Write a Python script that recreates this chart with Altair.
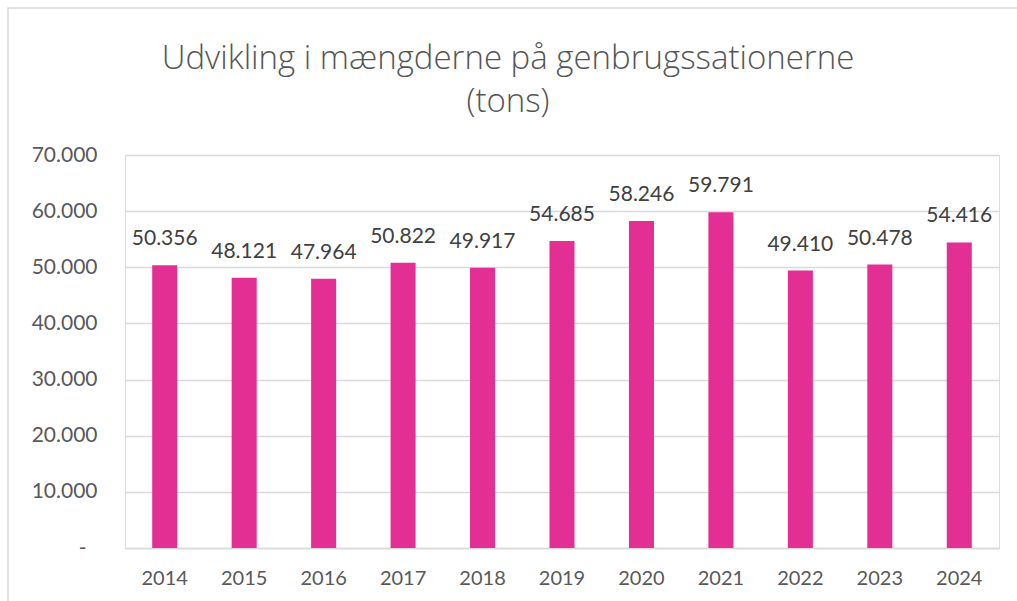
import altair as alt
import pandas as pd

years = ["2014", "2015", "2016", "2017", "2018", "2019", "2020", "2021", "2022", "2023", "2024"]
values = [50356, 48121, 47964, 50822, 49917, 54685, 58246, 59791, 49410, 50478, 54416]
y_ticks = [0, 10000, 20000, 30000, 40000, 50000, 60000, 70000]

df = pd.DataFrame({"year": years, "value": values})
df["label"] = [f"{v:,}".replace(",", ".") for v in values]

FONT = "Lato"
BAR = "#E32E93"

x = alt.X("year:N", sort=years, title=None,
          scale=alt.Scale(paddingInner=0.685, paddingOuter=0.3425),
          axis=alt.Axis(labelAngle=0, labelFontSize=20, labelColor="#595959", labelFont=FONT,
                        labelPadding=20, ticks=False, domainColor="#d9d9d9", domainWidth=1.3,
                        grid=False))
y = alt.Y("value:Q", title=None,
          scale=alt.Scale(domain=[0, 70000], nice=False),
          axis=alt.Axis(values=y_ticks, labelFontSize=21, labelColor="#595959", labelFont=FONT,
                        labelPadding={"condition": {"test": "datum.value == 0", "value": 39}, "value": 28},
                        ticks=False, domain=False, gridColor="#d9d9d9",
                        gridWidth=1.3,
                        labelExpr="datum.value == 0 ? '-' : replace(format(datum.value, ',.0f'), ',', '.')"))

border = alt.Chart(pd.DataFrame({"a": [0]})).mark_rect(
    fill=None, stroke="#d9d9d9", strokeWidth=1.5, clip=False
).encode(x=alt.value(-117), y=alt.value(-147), x2=alt.value(930), y2=alt.value(500))

bars = alt.Chart(df).mark_bar(color=BAR).encode(x=x, y=y)
labels = alt.Chart(df).mark_text(baseline="alphabetic", dy=-20, fontSize=21, font=FONT,
                                 color="#404040").encode(x=x, y=y, text="label:N")

chart = alt.layer(border, bars, labels).properties(
    width=874, height=393,
    title=alt.Title(["Udvikling i mængderne på genbrugssationerne", "(tons)"],
                    fontSize=33, font="Open Sans", fontWeight=300, color="#555555",
                    anchor="middle", dx=-54, dy=148, offset=36, lineHeight=43),
    autosize=alt.AutoSizeParams(type="none"),
    padding={"left": 125, "top": 155, "right": 18, "bottom": 53},
).configure_view(stroke=None).configure(background="white")

chart.save("out.html", embed_options={"renderer": "svg", "actions": False})
